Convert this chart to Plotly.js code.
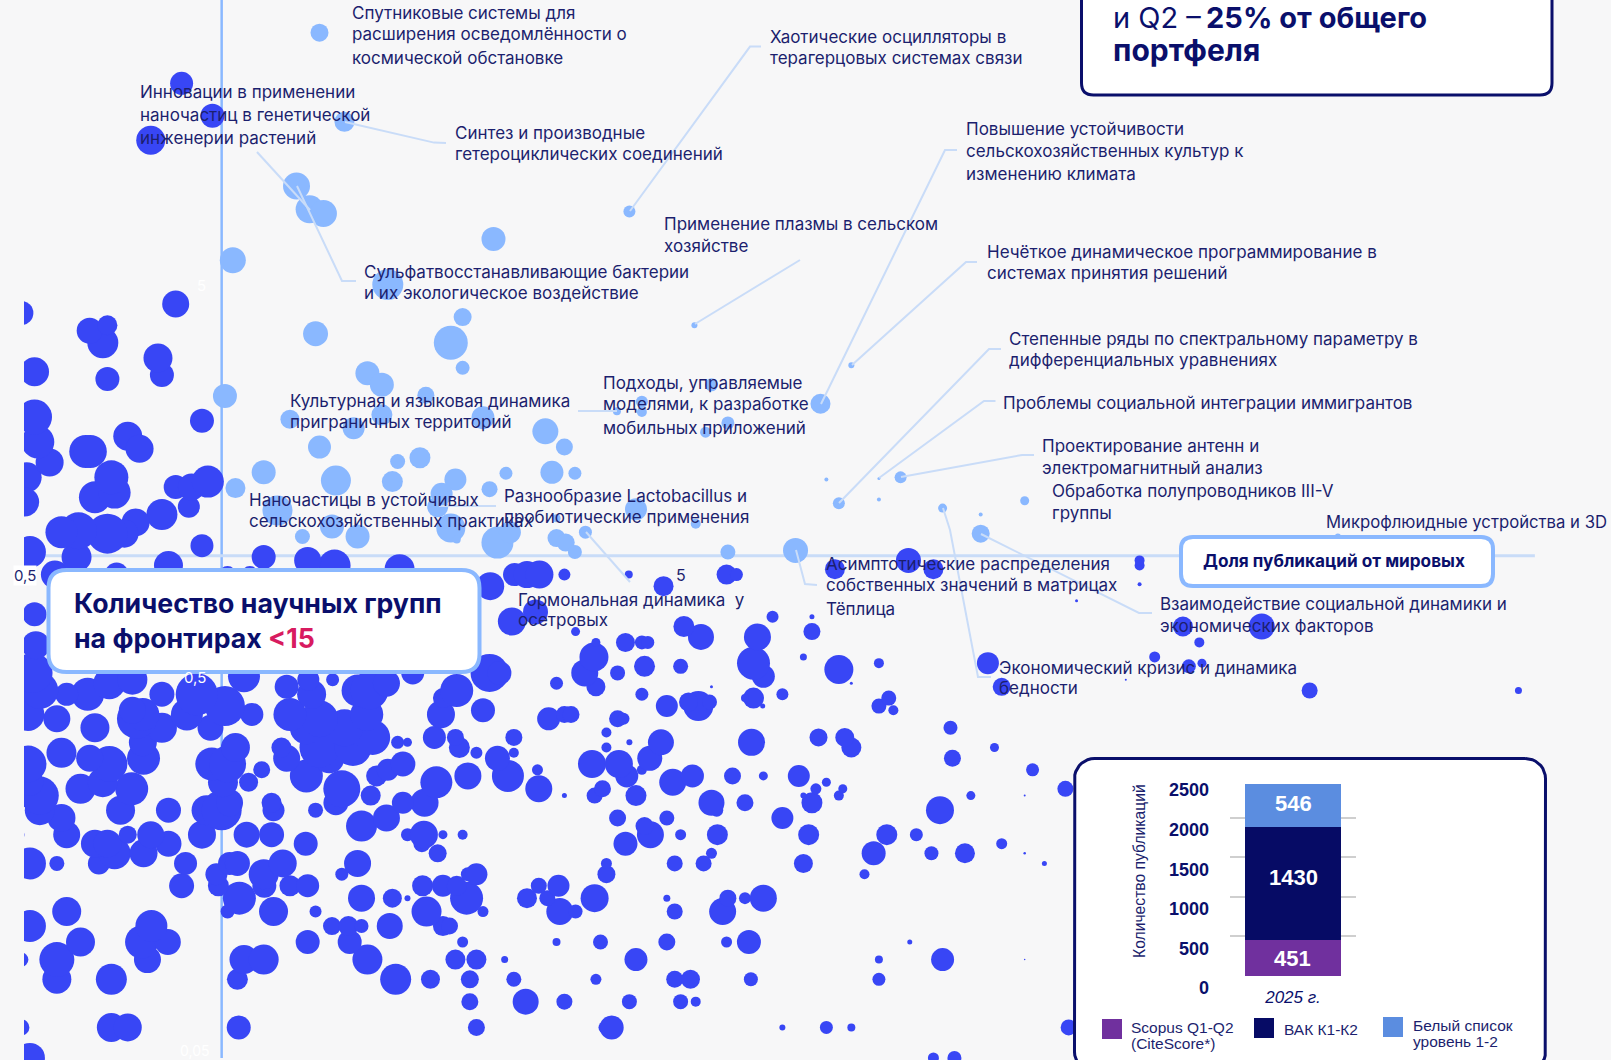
<!DOCTYPE html>
<html lang="ru">
<head>
<meta charset="utf-8">
<script src="https://cdn.plot.ly/plotly-3.0.1.min.js"></script>
<style>html,body{margin:0;padding:0;background:#f7f7f8;overflow:hidden}#chart{width:1611px;height:1060px}</style>
</head>
<body>
<div id="chart"></div>
<script>
// ---------- DATA ----------
// Lower rows: [share of groups (y), log10(share of publications), bubble diameter]
const lowerRows = [
[0.05,[-.292,1.084,1.116],[30,11,14]],
[0.06,[-.305,-.168,-.143,.026,.388,.583,.594,.854,.921,.959,1.290],[16,29,28,24,17,12,24,6,13,8,16]],
[0.07,[.378,.463,.522,.621,.699,.722],[17,26,16,15,15,10]],
[0.08,[-.251,-.168,.024,.265,.318,.378,.445,.570,.690,.714,.806,1.001],[29,31,21,31,19,18,15,11,17,19,14,13]],
[0.09,[-.305,-.251,-.113,.034,.064,.222,.356,.388,.431,.631,1.001,1.098,1.223],[14,35,27,29,30,30,20,20,7,23,8,23,1.5]],
[0.10,[-.215,-.122,-.082,.131,.195,.367,.510,.577,.678,.769,.803,1.048],[29,33,26,24,24,11,8,15,17,11,24,5]],
[0.11,[-.292,-.107,.168,.193,.213,.256,.337,.347],[32,32,18,20,14,26,20,17]],
[0.12,[-.236,.009,.079,.143,.312,.398,.515,.539,.690,.763],[29,14,29,12,30,11,27,14,16,27]],
[0.13,[.027,.213,.260,.283,.373,.465,.496,.568,.678,.771,.797,.825],[33,27,19,6,33,20,16,28,7,17,12,27]],
[0.14,[-.061,-.005,.065,.104,.131,.306,.337,.358,.483,.513],[25,21,24,21,23,21,22,20,16,22]],
[0.15,[-.008,.064,.183,.375,.388,.586,.979],[22,30,13,14,22,18,10]],
[0.16,[-.292,-.251,-.187,-.055,.012,.024,.093,.207,.586,.690,.734,.886,1.253],[32,15,22,23,23,25,28,27,11,16,16,19,5]],
[0.17,[-.163,-.119,.329,.746,.993,1.081,1.132,1.223],[32,28,18,11,24,14,20,2.5]],
[0.18,[-.193,-.174,-.081,.128,.305,.615,1.188],[28,28,26,24,17,24,11]],
[0.19,[-.308,-.236,-.143,-.108,-.030,.038,.076,.283,.308,.337,.367,.653,.699,.755,.894,1.013,1.058],[10,27,18,27,28,26,25,13,28,9,10,27,11,21,21,21,13]],
[0.20,[.213,.644],[31,18]],
[0.21,[-.244,.251,.603,.678,.854],[28,27,17,15,22]],
[0.22,[-.277,-.154,-.081,-.023,0,.079,.143,1.094,.754],[30,29,25,30,40,22,15,28,13]],
[0.23,[.012,.076,.174,.309,.276,.746,.797,.899],[27,20,25,28,22,26,17,21]],
[0.24,[-.277,.227,.522,.568,.631,.940,.886,1.141,1.223],[38,20,5,16,21,10,6,9,2]],
[0.25,[-.215,-.137,.183,.483,.580,.905,.946,1.285],[30,33,37,27,17,11,9,16]],
[0.26,[-.292,-.181,.002,.041,.327,.687,.921],[27,30,30,19,32,27,9]],
[0.27,[.129,.236,.375,.436,.617,.717,.778,.825,.879],[33,21,27,32,23,23,17,9,22]],
[0.28,[.061,.253,.481,.640,1.235],[17,22,11,10,13]],
[0.29,[-.295,-.171,-.015,.009,.276,.564,.605],[37,36,33,37,25,28,28]],
[0.30,[-.201,-.119,.099,.164,.420,1.113,.652],[27,33,27,30,25,17,25]],
[0.31,[-.244,.388,.445],[30,12,10]],
[0.32,[.091,.149,.200,.362,.586,.959,1.177,.021],[20,40,37,21,10,20,9,29]],
[0.33,[-.120,.268,.283,.621,.669,.807],[28,13,9,6,26,27]],
[0.34,[.230,.324,.356,.445,.909,.949],[35,23,17,17,18,19]],
[0.35,[.586],[10]],
[0.36,[-.193,-.091,.129,.187,-.017,1.110],[29,30,33,37,26,14]],
[0.38,[-.251,-.129,.149,.498,.603,.612],[27,40,37,23,17,12]],
[0.39,[-.295,-.120,-.053,.046,.104,.334,.221,.522,.532],[33,33,32,23,33,28,33,17,17]],
[0.40,[-.136,.398,1.023],[27,24,10]],
[0.41,[.005,.726,.678,1.001,.824],[40,30,22,15,5]],
[0.42,[.711,.743],[19,15]],
[0.43,[.337,.810,.797,1.016],[20,21,8,15]],
[0.44,[-.204,-.236,-.091,-.038,.137,.640,.854],[33,23,25,42,29,13,12]],
[0.45,[-.277,.207,.358,.225,1.657,1.975],[37,32,33,38,16,7]],
[0.46,[.099,.570,1.188,.746],[24,19,18,3]],
[0.47,[-.171,.251,.510,.959],[32,27,13,3]],
[0.48,[-.136,.169,1.377,.132],[30,13,2,22]],
[0.49,[.034,.825],[32,23]],
[0.50,[-.288,.291,.408,.423,.553,.603],[40,23,38,24,27,15]],
[0.51,[.940],[29]],
[0.52,[.699,.644,1.473],[15,21,14]],
[0.53,[.810,1.001,1.167,1.493],[33,10,22,9]],
[0.55,[.567,.886,1.421],[29,7,11]],
[0.59,[-.283],[28]],
[0.60,[.615,.640,.649,.570,1.489],[19,14,13,9,10]],
[0.62,[.730,.816],[26,27]],
[0.64,[.539,.899],[9,17]],
[0.66,[.704,1.464,1.584],[21,20,26]],
[0.68,[.442],[28]],
[0.70,[.839,.899],[12,5]],
[0.71,[-.285],[24]],
[0.72,[.478],[25]],
[0.77,[1.302],[3]],
[0.84,[.409,.673],[28,20]],
[0.85,[1.398],[4]],
[0.90,[-.254,-.160,.009,.043,.355,.446,.465,.484,.522,.620,.769,.784],[28,24,17,17,13,23,27,28,12,8,20,13]],
[0.93,[.271,1.084,.934],[30,20,20]],
[0.95,[-.081,.172,1.398],[29,32,10]],
[0.98,[.131,1.046,1.398],[27,25,10]],
[1.00,[-.221,.064],[30,24]]
];
// Upper part of the chart, one bubble per entry
const upperY = [1.03,1.07,1.29,1.23,1.15,1.15,1.17,1.16,1.35,1.52,1.52,1.57,1.43,1.47,1.61,1.88,1.88,2.06,1.91,1.61,1.39,1.76,1.99,2.31,2.26,2.9,3.03,2.97,3.29,3.6,3.87,4.0,4.3,4.54,12.1,14,17,
23,13.5,9.2,8,7.8,5.9,6.7,7.9,4,5.1,4.2,3.8,3.6,3.1,3.0,2.8,2.63,2.62,2.28,2.34,2.16,2.3,1.93,1.77,1.81,1.66,1.58,1.57,1.59,1.65,1.5,1.51,1.32,1.46,1.35,1.2,1.19,1.13,1.13,1.09,1.16,1.11,2.12,1.93,1.66,1.65,1.33,1.16,1.12,1.09,1.03,1.26,1.22,1.03,2.8,2.53,2.38,2.39,2.23,2.11,2.5,3.15,1.61,1.6,1.59,1.38,1.41,1.34,1.29,1.15,1.4,1.13,1.04];
const upperLogX = [-.292,-.030,-.091,-.131,-.148,-.174,-.218,-.244,-.050,-.070,-.046,-.021,-.193,-.163,-.168,-.207,-.200,-.143,-.125,-.297,-.300,-.262,-.280,-.285,-.030,-.174,-.285,-.091,-.097,-.181,-.201,-.174,-.305,-.070,-.108,-.014,-.061,
.149,.187,.114,.134,.155,.017,.414,.621,.720,.253,.367,.143,.349,.367,.222,.244,.311,.005,.104,.244,.201,.398,.149,.268,.302,.064,.174,.260,.356,.433,.408,.021,.085,.335,.329,.168,.349,.123,.207,.420,.439,.358,.493,.522,.503,.538,.631,.554,.510,.524,.538,.510,.722,.771,.746,.640,.640,.602,.771,.737,.912,.959,1.034,1.001,.921,.940,1.001,1.098,1.156,1.156,1.223,1.700,.874];
const upperSize = [32,23,31,28,28,40,37,32,22,24,27,32,32,32,34,33,33,29,28,30,29,28,33,35,24,24,29,24,29,31,26,20,24,27,29,24,23,
18,20,27,28,27,26,24,12,6,31,18,25,34,14,24,24,17,24,19,21,22,23,23,15,21,24,30,21,22,13,16,20,30,22,21,24,29,15,24,32,22,8,26,17,23,13,22,13,18,18,14,8,10,15,13,12,10,8,13,11,20,6,12,3,4,12,4,9,4,18,9,6,25];

const barCategory = ['2025 г.'];
const scopusPubs = [451];
const vakPubs = [1430];
const whitePubs = [546];
const pubTicks = [0,500,1000,1500,2000,2500];

const labels = [
['Спутниковые системы для',352,12.5],['расширения осведомлённости о',352,34],['космической обстановке',352,58],
['Инновации в применении',140.5,92],['наночастиц в генетической',140.5,115],['инженерии растений',140.5,138],
['Синтез и производные',455,133],['гетероциклических соединений',455,154.2],
['Хаотические осцилляторы в',770,37.5],['терагерцовых системах связи',770,58],
['Применение плазмы в сельском',664,224.5],['хозяйстве',664,246],
['Сульфатвосстанавливающие бактерии',364,272.3],['и их экологическое воздействие',364,293],
['Культурная и языковая динамика',290,401],['приграничных территорий',290,422.3],
['Подходы, управляемые',603,383],['моделями, к разработке',603,404],['мобильных приложений',603,428],
['Наночастицы в устойчивых',249,500],['сельскохозяйственных практиках',249,521],
['Разнообразие Lactobacillus и',504,496],['пробиотические применения',504,517],
['Гормональная динамика  у',518,599.5],['осетровых',518,620],
['Повышение устойчивости',966,129.4],['сельскохозяйственных культур к',966,150.7],['изменению климата',966,174.2],
['Нечёткое динамическое программирование в',987,252.2],['системах принятия решений',987,273.2],
['Степенные ряды по спектральному параметру в',1009,339],['дифференциальных уравнениях',1009,360.5],
['Проблемы социальной интеграции иммигрантов',1003,403.4],
['Проектирование антенн и',1042,446.2],['электромагнитный анализ',1042,467.5],
['Обработка полупроводников III-V',1052,491],['группы',1052,513],
['Асимптотические распределения',826,563.8],['собственных значений в матрицах',826,585.2],['Тёплица',826,609],
['Взаимодействие социальной динамики и',1160,603.6],['экономических факторов',1160,625.5],
['Экономический кризис и динамика',999.7,667.5],['бедности',999.7,688]
];
const leaders = [
[[630,211],[750,46.6],[761,46.6]],
[[345,122],[434,142.6],[446,143]],
[[257,152],[310,210]],
[[297,186],[342,281],[356,281]],
[[695,324],[800,260]],
[[821,404],[945,150],[957,150]],
[[852,365],[966,262],[977,262]],
[[839,503],[989,349],[1001,349]],
[[879,478],[984,401],[995.5,401]],
[[901,477],[1022,455],[1034,455]],
[[578,411],[617,411]],
[[439,506],[496,506]],
[[586,532],[630,582]],
[[796,550],[805,584],[817,585]],
[[943,508],[950,530],[978,677],[991,677]],
[[981,534],[1139,613],[1152,613]]
];

// ---------- COLOURS / FONTS ----------
const DARK='#3846f5', LIGHT='#8ab8ff', LEAD='#c9dcf8', NAVY='#0a0f6b', TXT='#1c1f6e', BG='#f7f7f8';
const FONT='Inter, "Noto Sans", sans-serif', AR='"Liberation Sans", Arial, sans-serif';

// ---------- BUILD ----------
const xs=[],ys=[],ds=[];
lowerRows.forEach(r=>r[1].forEach((lg,i)=>{xs.push(10**lg);ys.push(r[0]);ds.push(r[2][i]);}));
upperY.forEach((y,i)=>{xs.push(10**upperLogX[i]);ys.push(y);ds.push(upperSize[i]);});
const cols=xs.map((x,i)=>(x>=1&&ys[i]>1)?LIGHT:DARK);

const W=1611,H=1060,ML=24,PW=W-ML;
const px=v=>(v-ML)/PW, py=v=>1-v/H;

function ann(text,x,y,o){return Object.assign({text,xref:'paper',yref:'paper',x:px(x),y:py(y),xanchor:'left',yanchor:'middle',
  showarrow:false,align:'left',borderpad:0,font:{family:FONT,size:17,color:TXT}},o||{});}
function rrect(l,t,r,b,rad,fill,stroke,w){
  const f=(a,c)=>px(a)+' '+py(c);
  const p=`M${f(l+rad,t)} L${f(r-rad,t)} Q${f(r,t)} ${f(r,t+rad)} L${f(r,b-rad)} Q${f(r,b)} ${f(r-rad,b)} L${f(l+rad,b)} Q${f(l,b)} ${f(l,b-rad)} L${f(l,t+rad)} Q${f(l,t)} ${f(l+rad,t)} Z`;
  return {type:'path',xref:'paper',yref:'paper',path:p,fillcolor:fill,line:{color:stroke,width:w},layer:'above'};
}
const sq=(l,t,s,c)=>({type:'rect',xref:'paper',yref:'paper',x0:px(l),x1:px(l+s),y0:py(t),y1:py(t+s),fillcolor:c,line:{width:0},layer:'above'});

const shapes=[];
leaders.forEach(l=>shapes.push({type:'path',xref:'paper',yref:'paper',layer:'above',
  path:l.map((p,i)=>(i?'L':'M')+px(p[0])+' '+py(p[1])).join(' '),line:{color:LEAD,width:2}}));
shapes.push(rrect(48.5,570,479.5,672,18,'#fff',LIGHT,4));
shapes.push(rrect(1181,537,1493,586,12,'#fff',LIGHT,4));
shapes.push(rrect(1081.5,-30,1552,95,12,'#fff',NAVY,3));
shapes.push(sq(1102,1019,20,'#70309e'),sq(1254,1018,20,'#060b65'),sq(1383,1017,20,'#5b8de0'));

const annotations=labels.map(l=>ann(l[0],l[1]-1.5,l[2]));
annotations.push(
 ann('Микрофлюидные устройства и 3D',1325,522,{font:{family:FONT,size:16.7,color:TXT}}),
 ann('<b>Количество научных групп</b>',72.5,603,{font:{family:FONT,size:26.7,color:NAVY}}),
 ann('<b>на фронтирах <span style="color:#d81b60">&lt;15</span></b>',72.5,638,{font:{family:FONT,size:26.7,color:NAVY}}),
 ann('<b>Доля публикаций от мировых</b>',1202,560,{font:{family:FONT,size:17.2,color:NAVY}}),
 ann('и Q2 –\u2009<b>25% от общего</b>',1112,18,{font:{family:FONT,size:29,color:NAVY}}),
 ann('<b>портфеля</b>',1112,50,{font:{family:FONT,size:30,color:NAVY}}),
 ann('0,5',25,575.5,{xanchor:'center',bgcolor:'#fff',font:{family:FONT,size:15,color:TXT}}),
 ann('5',681,575,{xanchor:'center',font:{family:FONT,size:16,color:TXT}}),
 ann('5',201,285,{xanchor:'center',font:{family:FONT,size:15,color:'#ffffff'}}),
 ann('0,5',195,677,{xanchor:'center',font:{family:FONT,size:15,color:'#ffffff'}}),
 ann('0,05',195,1050,{xanchor:'center',font:{family:FONT,size:14,color:'#ffffff'}}),
 ann('Количество публикаций',1139,871,{xanchor:'center',textangle:-90,font:{family:AR,size:15.7,color:TXT}}),
 ann('Scopus Q1-Q2',1130,1027,{font:{family:AR,size:15.5,color:TXT}}),
 ann('(CiteScore*)',1130,1043,{font:{family:AR,size:15.5,color:TXT}}),
 ann('ВАК К1-К2',1283,1029,{font:{family:AR,size:15.5,color:TXT}}),
 ann('Белый список',1412,1025,{font:{family:AR,size:15.5,color:TXT}}),
 ann('уровень 1-2',1412,1041,{font:{family:AR,size:15.5,color:TXT}}),
 ann('<b>'+scopusPubs[0]+'</b>',1292,958,{xanchor:'center',font:{family:AR,size:22,color:'#fff'}}),
 ann('<b>'+vakPubs[0]+'</b>',1293,877,{xanchor:'center',font:{family:AR,size:22,color:'#fff'}}),
 ann('<b>'+whitePubs[0]+'</b>',1293,803,{xanchor:'center',font:{family:AR,size:22,color:'#fff'}})
);

// white inset panel: closed outline drawn in its own subplot so that bars sit on top
const panel=(()=>{const l=1074.5,t=758.5,r=1545.5,b=1072,c=20,X=[],Y=[];
  [[r-c,t+c,-90],[r-c,b-c,0],[l+c,b-c,90],[l+c,t+c,180]].forEach(k=>{
    for(let a=0;a<=90;a+=10){const q=(k[2]+a)*Math.PI/180;X.push(k[0]+c*Math.cos(q));Y.push(k[1]+c*Math.sin(q));}});
  X.push(X[0]);Y.push(Y[0]);return{X,Y};})();

const barOpts=(name,y,color)=>({type:'bar',name,x:barCategory,y,xaxis:'x3',yaxis:'y3',marker:{color,line:{width:0}},hoverinfo:'name+y'});

const traces=[
 {type:'scatter',mode:'lines',x:[1,1],y:[0.05,30],line:{color:LIGHT,width:2.5},hoverinfo:'skip',showlegend:false},
 {type:'scatter',mode:'lines',x:[0.5,100],y:[1.008,1.008],line:{color:LEAD,width:3},hoverinfo:'skip',showlegend:false},
 {type:'scatter',mode:'markers',x:xs,y:ys,marker:{size:ds,color:cols,opacity:1,line:{width:0}},hoverinfo:'x+y',showlegend:false},
 {type:'scatter',mode:'lines',x:panel.X,y:panel.Y,xaxis:'x2',yaxis:'y2',fill:'toself',fillcolor:'#fff',line:{color:NAVY,width:3},hoverinfo:'skip',showlegend:false},
 barOpts('Scopus Q1-Q2',scopusPubs,'#70309e'),
 barOpts('ВАК К1-К2',vakPubs,'#060b65'),
 barOpts('Белый список',whitePubs,'#5b8de0')
];

const layout={
 width:W,height:H,autosize:false,showlegend:false,barmode:'stack',bargap:0.238,
 margin:{l:ML,r:0,t:0,b:0,pad:0},paper_bgcolor:BG,plot_bgcolor:'rgba(0,0,0,0)',hovermode:'closest',
 xaxis:{type:'log',range:[Math.log10(0.5),Math.log10(0.5)+PW/656.6],visible:false,domain:[0,1],fixedrange:true},
 yaxis:{type:'log',range:[-(H-557)/385,557/385],visible:false,domain:[0,1],fixedrange:true},
 xaxis2:{range:[1071,1549],visible:false,domain:[px(1071),px(1549)],anchor:'y2',fixedrange:true},
 yaxis2:{range:[1060,754],visible:false,domain:[0,py(754)],anchor:'x2',fixedrange:true},
 xaxis3:{type:'category',domain:[px(1230),px(1356)],anchor:'y3',showgrid:false,zeroline:false,ticks:'',showline:false,
   ticklabelstandoff:9,tickfont:{family:AR,size:17,color:NAVY,style:'italic'},fixedrange:true},
 yaxis3:{range:[0,2500],domain:[py(976),py(778)],anchor:'x3',tickvals:pubTicks,ticktext:pubTicks.map(String),showgrid:true,
   gridcolor:'#cfcfcf',gridwidth:2,zeroline:false,showline:false,ticks:'',ticklabelstandoff:20,ticklabelshift:12,
   tickfont:{family:AR,size:18,color:NAVY,weight:700},fixedrange:true},
 shapes,annotations
};
Plotly.newPlot('chart',traces,layout,{displayModeBar:false,responsive:false});
</script>
</body>
</html>
